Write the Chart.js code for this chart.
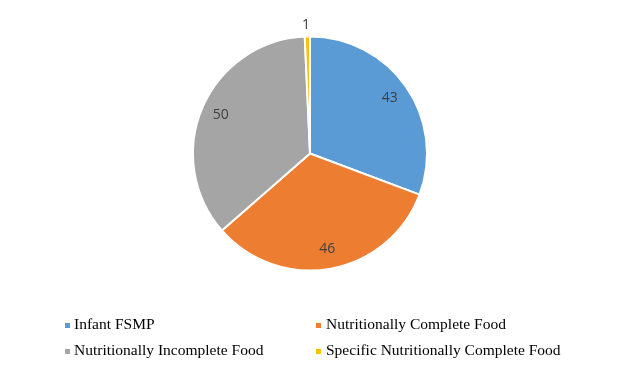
<!DOCTYPE html>
<html>
<head>
<meta charset="utf-8">
<script src="https://cdn.jsdelivr.net/npm/chart.js@4/dist/chart.umd.min.js"></script>
<style>
  html, body { margin:0; padding:0; background:#fff; }
  #wrap { position:relative; width:619px; height:370px; }
  #legend { position:absolute; left:0; top:0; width:619px; height:370px; pointer-events:none;
    font-family:"Liberation Serif","Times New Roman",serif; font-size:15.5px; color:#000; }
  .txt { position:absolute; white-space:nowrap; line-height:16px; }
  .box { position:absolute; width:5px; height:5px; }
</style>
</head>
<body>
<div id="wrap">
  <canvas id="pie" width="619" height="370"></canvas>
  <div id="legend"></div>
</div>
<script>
// data
const labels = ["Infant FSMP","Nutritionally Complete Food","Nutritionally Incomplete Food","Specific Nutritionally Complete Food"];
const values = [43, 46, 50, 1];
const colors = ["#5B9BD5","#ED7D31","#A5A5A5","#FFC000"];

// legend spots (2 columns): [marker x, text x, row top]
const legendPos = [[65,74,316],[316,326,316],[65,74,342],[316,326,342]];
const leg = document.getElementById("legend");
labels.forEach((l,i)=>{
  const p = legendPos[i];
  const b = document.createElement("div");
  b.className = "box";
  b.style.left = p[0]+"px"; b.style.top = (p[2]+7)+"px"; b.style.background = colors[i];
  leg.appendChild(b);
  const t = document.createElement("div");
  t.className = "txt";
  t.style.left = p[1]+"px"; t.style.top = p[2]+"px";
  t.textContent = l;
  leg.appendChild(t);
});

// value labels on slices
const sliceLabels = {
  id:"sliceLabels",
  afterDatasetsDraw(chart){
    const ctx = chart.ctx;
    const meta = chart.getDatasetMeta(0);
    ctx.save();
    ctx.font = '14px "Open Sans", "DejaVu Sans", sans-serif';
    ctx.fillStyle = "#404040";
    ctx.textAlign = "center"; ctx.textBaseline = "middle";
    meta.data.forEach((arc,i)=>{
      const a = (arc.startAngle+arc.endAngle)/2;
      const small = values[i] < 5;
      const r = small ? arc.outerRadius + 11.5 : arc.outerRadius*0.83;
      const x = arc.x + Math.cos(a)*r - (small ? 1 : 0);
      const y = arc.y + Math.sin(a)*r;
      ctx.fillText(String(values[i]), x, y);
    });
    ctx.restore();
  }
};

new Chart(document.getElementById("pie"),{
  type:"pie",
  data:{labels, datasets:[{data:values, backgroundColor:colors, borderColor:"#fff", borderWidth:2}]},
  options:{
    responsive:false, animation:false,
    radius:117,
    layout:{padding:{left:1,right:0,top:0,bottom:63}},
    plugins:{legend:{display:false}, tooltip:{enabled:false}}
  },
  plugins:[sliceLabels]
});
</script>
</body>
</html>
